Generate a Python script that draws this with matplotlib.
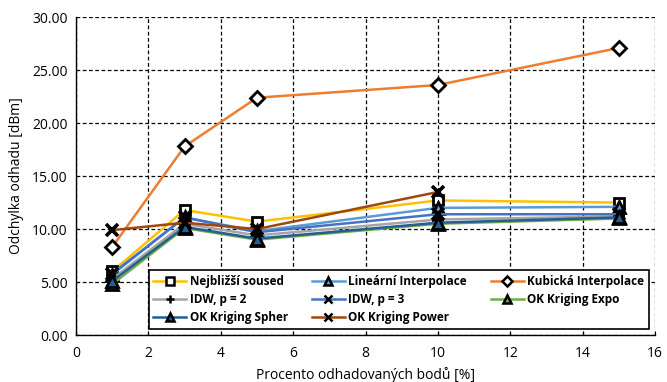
import matplotlib
matplotlib.use('Agg')
import matplotlib.pyplot as plt
from matplotlib.ticker import FormatStrFormatter

x_pct = [1, 3, 5, 10, 15]
x_power = [1, 3, 5, 10]

nejblizsi = [6.0, 11.8, 10.7, 12.7, 12.5]
linearni = [5.7, 11.1, 9.8, 12.0, 12.1]
kubicka = [8.3, 17.8, 22.4, 23.6, 27.1]
idw2 = [5.3, 10.5, 9.4, 10.9, 11.2]
idw3 = [5.8, 11.1, 9.7, 11.4, 11.4]
ok_expo = [4.8, 10.1, 9.0, 10.5, 11.0]
ok_spher = [5.1, 10.2, 9.1, 10.6, 11.1]
ok_power = [9.9, 10.6, 10.0, 13.5]

plt.rcParams['font.family'] = ['Open Sans', 'DejaVu Sans']

fig = plt.figure(figsize=(6.67, 3.82), dpi=100)
ax = fig.add_axes([0.114, 0.123, 0.868, 0.832])

series = [
    ('Nejbližší soused', x_pct, nejblizsi, '#FFC000', 's', 'white'),
    ('Lineární Interpolace', x_pct, linearni, '#5B9BD5', '^', None),
    ('Kubická Interpolace', x_pct, kubicka, '#ED7D31', 'D', 'white'),
    ('IDW, p = 2', x_pct, idw2, '#A5A5A5', '+', None),
    ('IDW, p = 3', x_pct, idw3, '#4472C4', 'x', None),
    ('OK Kriging Expo', x_pct, ok_expo, '#70AD47', '^', None),
    ('OK Kriging Spher', x_pct, ok_spher, '#255E91', '^', None),
    ('OK Kriging Power', x_power, ok_power, '#9E480E', 'x', None),
]

handles = {}
for name, xs, ys, col, mk, face in series:
    if mk in ('x', '+'):
        line, = ax.plot(xs, ys, color=col, lw=1.8, marker=mk, ms=9,
                        mec='black', mew=2.6, label=name, zorder=3)
    else:
        ms = 7 if mk in ('s', 'D') else 8
        line, = ax.plot(xs, ys, color=col, lw=1.8, marker=mk, ms=ms,
                        mfc=face if face else col, mec='black', mew=2,
                        label=name, zorder=3)
    handles[name] = line

ax.set_xlim(0, 16)
ax.set_ylim(0, 30)
ax.set_xticks(range(0, 17, 2))
ax.set_yticks(range(0, 31, 5))
ax.yaxis.set_major_formatter(FormatStrFormatter('%.2f'))
ax.grid(True, color='black', linestyle=(0, (3, 2)), linewidth=0.9)
ax.set_axisbelow(True)
for s in ('top', 'right'):
    ax.spines[s].set_visible(False)
for s in ('left', 'bottom'):
    ax.spines[s].set_linewidth(1.0)
ax.tick_params(axis='x', length=3, direction='in', labelsize=10, pad=8)
ax.tick_params(axis='y', length=0, labelsize=10, pad=6)

ax.set_xlabel('Procento odhadovaných bodů [%]', fontsize=10, labelpad=4)
ax.set_ylabel('Odchylka odhadu [dBm]', fontsize=10, labelpad=6)

order = ['Nejbližší soused', 'IDW, p = 2', 'OK Kriging Spher',
         'Lineární Interpolace', 'IDW, p = 3', 'OK Kriging Power',
         'Kubická Interpolace', 'OK Kriging Expo']
leg = ax.legend([handles[n] for n in order], order, ncol=3,
                loc='lower left', bbox_to_anchor=(0.115, 0.0, 0.885, 0.21),
                mode='expand', fancybox=False, framealpha=1, edgecolor='black',
                prop={'weight': 'bold', 'size': 8.5}, handlelength=2.8,
                borderpad=0.4, labelspacing=0.45, handletextpad=0.3)
leg.get_frame().set_linewidth(1.2)
leg.set_zorder(5)
# smaller markers in the legend, like the original
for h in leg.legend_handles:
    h.set_markersize(5.5)
    h.set_markeredgewidth(1.8)

fig.savefig('out.png', dpi=100)
